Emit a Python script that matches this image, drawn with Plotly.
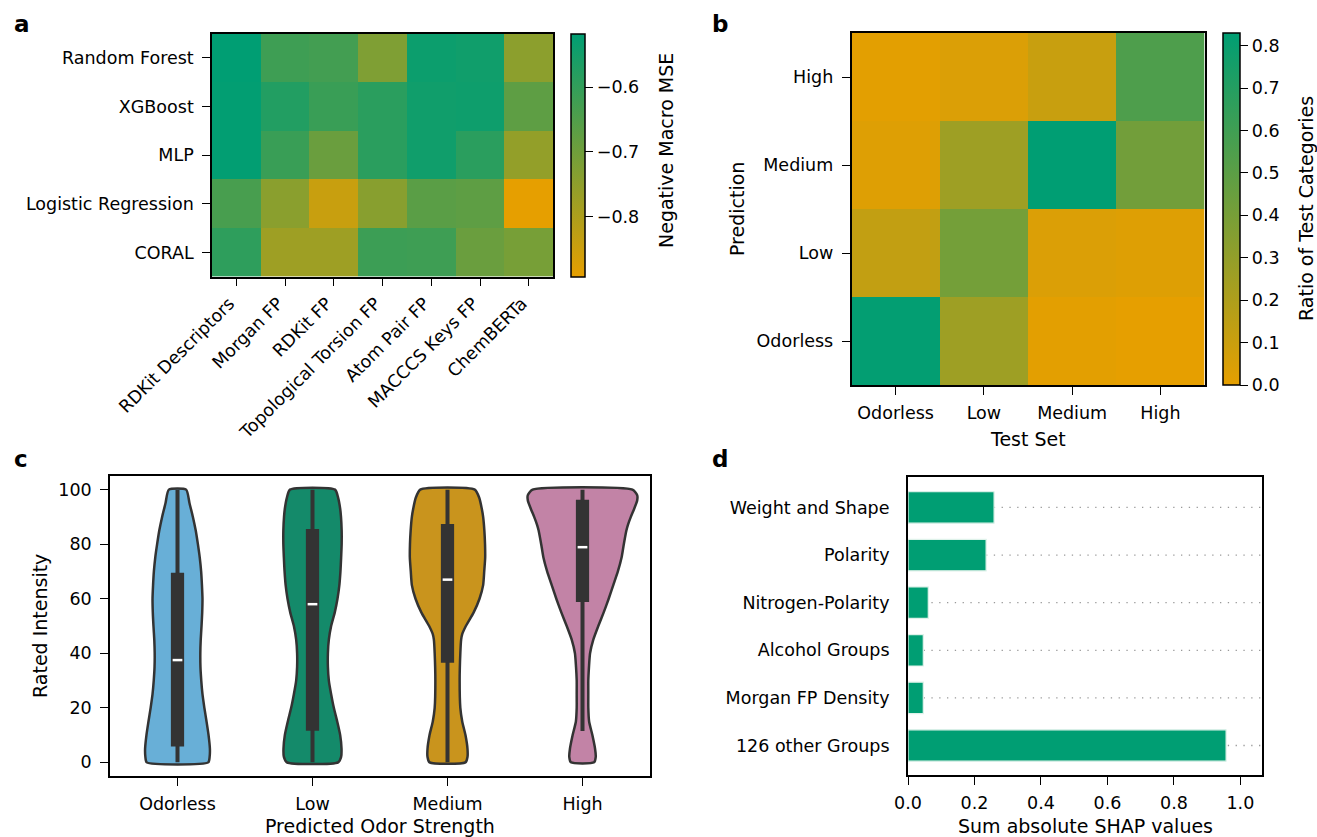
import plotly.graph_objects as go

# ---------------- data ----------------
models = ["Random Forest", "XGBoost", "MLP", "Logistic Regression", "CORAL"]
features = ["RDKit Descriptors", "Morgan FP", "RDKit FP", "Topological Torsion FP",
            "Atom Pair FP", "MACCCS Keys FP", "ChemBERTa"]
neg_macro_mse = [
    [-0.517, -0.619, -0.626, -0.724, -0.536, -0.543, -0.746],
    [-0.521, -0.573, -0.611, -0.585, -0.543, -0.540, -0.671],
    [-0.521, -0.611, -0.690, -0.585, -0.543, -0.585, -0.758],
    [-0.634, -0.743, -0.844, -0.739, -0.664, -0.671, -0.893],
    [-0.592, -0.776, -0.776, -0.615, -0.619, -0.690, -0.712],
]
mse_ticks = [-0.6, -0.7, -0.8]
mse_ticktext = ["\u22120.6", "\u22120.7", "\u22120.8"]

strength = ["Odorless", "Low", "Medium", "High"]
# rows = prediction (Odorless .. High), columns = test set category
conf_ratio = [
    [0.82, 0.26, 0.01, 0.00],
    [0.13, 0.41, 0.04, 0.03],
    [0.03, 0.26, 0.83, 0.42],
    [0.01, 0.04, 0.11, 0.55],
]
ratio_ticks = [0.0, 0.1, 0.2, 0.3, 0.4, 0.5, 0.6, 0.7, 0.8]

# violin outlines: intensity level -> half width (category units)
violin_levels = {
    "Odorless": [0, 2, 5, 10, 15, 20, 25, 30, 35, 40, 45, 50, 55, 60, 65, 70, 75, 80, 85, 90, 95, 100],
    "Low":      [0, 2, 5, 10, 15, 20, 25, 30, 35, 40, 45, 50, 55, 60, 65, 70, 75, 80, 85, 90, 93, 97, 100],
    "Medium":   [0, 2, 5, 10, 15, 20, 30, 40, 45, 47, 50, 55, 60, 65, 70, 75, 80, 85, 90, 93, 97, 100],
    "High":     [0, 2, 5, 10, 15, 20, 25, 30, 35, 40, 45, 50, 55, 60, 65, 70, 75, 80, 85, 87, 90, 93, 96, 98, 100],
}
violin_halfwidth = {
    "Odorless": [0.228, 0.238, 0.240, 0.230, 0.215, 0.199, 0.185, 0.176, 0.170, 0.169, 0.172, 0.178,
                 0.183, 0.185, 0.181, 0.175, 0.165, 0.151, 0.135, 0.114, 0.089, 0.064],
    "Low":      [0.190, 0.212, 0.215, 0.205, 0.183, 0.158, 0.138, 0.121, 0.114, 0.114, 0.121, 0.138,
                 0.165, 0.185, 0.199, 0.207, 0.212, 0.216, 0.216, 0.211, 0.205, 0.190, 0.167],
    "Medium":   [0.133, 0.148, 0.148, 0.133, 0.109, 0.095, 0.090, 0.095, 0.101, 0.109, 0.136, 0.194,
                 0.237, 0.264, 0.272, 0.279, 0.278, 0.273, 0.264, 0.254, 0.235, 0.202],
    "High":     [0.086, 0.098, 0.093, 0.073, 0.049, 0.043, 0.043, 0.043, 0.048, 0.056, 0.080, 0.117,
                 0.157, 0.194, 0.228, 0.262, 0.289, 0.306, 0.325, 0.336, 0.358, 0.383, 0.405, 0.405, 0.370],
}
box_q1 = [5.8, 11.6, 36.5, 58.8]
box_q3 = [69.5, 85.6, 87.4, 96.3]
box_median = [37.5, 58.0, 67.0, 78.9]
whisker_low = [0, 0, 0, 11.5]
whisker_high = [100, 100, 100, 100]
violin_colors = ["#68AFD7", "#148A6A", "#C9941D", "#C283A6"]

shap_groups = ["Weight and Shape", "Polarity", "Nitrogen-Polarity", "Alcohol Groups",
               "Morgan FP Density", "126 other Groups"]
shap_values = [0.259, 0.235, 0.061, 0.046, 0.046, 0.957]

# ---------------- layout helpers ----------------
W, H = 1317, 837
FONT = "DejaVu Sans"
TICK = 17.5
TITLE = 19


def fx(p):
    return p / W


def fy(p):
    return 1 - p / H


scale = [[0, "#E69F00"], [1, "#009E73"]]

fig = go.Figure()

# ---- panel a ----
fig.add_trace(go.Heatmap(
    z=neg_macro_mse, x=features, y=models, colorscale=scale, xaxis="x", yaxis="y",
    xgap=0, ygap=0, hoverongaps=False,
    colorbar=dict(x=fx(570.7), xanchor="left", xpad=0, ypad=0,
                  y=fy((33.5 + 276.7) / 2), yanchor="middle",
                  len=(276.7 - 33.5) / H, lenmode="fraction", thickness=13.5,
                  outlinewidth=1.5, outlinecolor="black",
                  tickvals=mse_ticks, ticktext=mse_ticktext, ticks="outside",
                  ticklen=8, tickwidth=1.3, tickcolor="black",
                  tickfont=dict(family=FONT, size=TICK, color="black")),
))

# ---- panel b ----
fig.add_trace(go.Heatmap(
    z=conf_ratio, x=strength, y=strength, colorscale=scale, xaxis="x2", yaxis="y2",
    zmin=0,
    colorbar=dict(x=fx(1223), xanchor="left", xpad=0, ypad=0,
                  y=fy((33 + 385) / 2), yanchor="middle",
                  len=352 / H, lenmode="fraction", thickness=16.5,
                  outlinewidth=1.5, outlinecolor="black",
                  tickvals=ratio_ticks, tickformat=".1f", ticks="outside",
                  ticklen=8, tickwidth=1.3, tickcolor="black",
                  tickfont=dict(family=FONT, size=TICK, color="black")),
))

# ---- panel c : violins ----
for i, cat in enumerate(strength):
    lv = violin_levels[cat]
    hw = violin_halfwidth[cat]
    xs = [i + w for w in hw] + [i - w for w in reversed(hw)]
    ys = list(lv) + list(reversed(lv))
    xs.append(xs[0])
    ys.append(ys[0])
    fig.add_trace(go.Scatter(
        x=xs, y=ys, xaxis="x3", yaxis="y3", mode="lines", fill="toself",
        fillcolor=violin_colors[i], line=dict(color="#333333", width=2.5, shape="spline", smoothing=0.6),
        hoverinfo="skip", showlegend=False))
    fig.add_trace(go.Scatter(
        x=[i, i], y=[whisker_low[i], whisker_high[i]], xaxis="x3", yaxis="y3", mode="lines",
        line=dict(color="#333333", width=4), hoverinfo="skip", showlegend=False))
    bw = 0.049
    fig.add_trace(go.Scatter(
        x=[i - bw, i + bw, i + bw, i - bw, i - bw],
        y=[box_q1[i], box_q1[i], box_q3[i], box_q3[i], box_q1[i]],
        xaxis="x3", yaxis="y3", mode="lines", fill="toself", fillcolor="#333333",
        line=dict(color="#333333", width=0), hoverinfo="skip", showlegend=False))
    fig.add_trace(go.Scatter(
        x=[i - 0.036, i + 0.036], y=[box_median[i], box_median[i]], xaxis="x3", yaxis="y3",
        mode="lines", line=dict(color="white", width=2.5), hoverinfo="skip", showlegend=False))

# ---- panel d : SHAP bars ----
fig.add_trace(go.Bar(
    x=shap_values, y=shap_groups, orientation="h", xaxis="x4", yaxis="y4", width=0.66,
    marker=dict(color="#009E73", line=dict(color="#dff2ea", width=1.2)), showlegend=False))

shapes = []
for g in shap_groups:
    shapes.append(dict(type="line", xref="x4 domain", x0=0, x1=1, yref="y4", y0=g, y1=g,
                       layer="below", line=dict(color="#999999", width=1.3, dash="1.3px,6.5px")))

axis_common = dict(showline=True, linecolor="black", linewidth=1.5, mirror=True,
                   ticks="outside", ticklen=8, tickwidth=1.3, tickcolor="black",
                   tickfont=dict(family=FONT, size=TICK, color="black"),
                   showgrid=False, zeroline=False, automargin=False)
xax = dict(axis_common, ticklabelstandoff=3)
yax = dict(axis_common, ticklabelstandoff=5)

fig.update_layout(
    width=W, height=H, margin=dict(l=0, r=0, t=0, b=0, pad=0, autoexpand=False),
    paper_bgcolor="white", plot_bgcolor="white",
    font=dict(family=FONT, size=TICK, color="black"),
    showlegend=False,
    xaxis=dict(domain=[fx(212), fx(553.3)], anchor="y", tickangle=-45,
               **{**xax, "ticklabelstandoff": 0, "ticklabelshift": -7}),
    yaxis=dict(domain=[fy(276.7), fy(33.5)], anchor="x", autorange="reversed", **yax),
    xaxis2=dict(domain=[fx(851.5), fx(1204.5)], anchor="y2", **xax),
    yaxis2=dict(domain=[fy(385), fy(33)], anchor="x2", **yax),
    xaxis3=dict(domain=[fx(110), fx(650)], anchor="y3", range=[-0.5, 3.5],
                tickvals=[0, 1, 2, 3], ticktext=strength, **xax),
    yaxis3=dict(domain=[fy(776), fy(476)], anchor="x3", range=[-5, 105],
                tickvals=[0, 20, 40, 60, 80, 100], **yax),
    xaxis4=dict(domain=[fx(908), fx(1262)], anchor="y4", range=[0, 1.065],
                tickvals=[0, 0.2, 0.4, 0.6, 0.8, 1.0], tickformat=".1f", **xax),
    yaxis4=dict(domain=[fy(775), fy(477)], anchor="x4", range=[5.62, -0.64],
                categoryorder="array", categoryarray=shap_groups,
                **{**yax, "ticks": "", "linewidth": 2, "ticklabelstandoff": 13}),
    shapes=shapes,
)


def note(text, x, y, size=TITLE, angle=0, bold=False, xanchor="center"):
    fig.add_annotation(text=f"<b>{text}</b>" if bold else text, x=fx(x), y=fy(y),
                       xref="paper", yref="paper", showarrow=False, textangle=angle,
                       xanchor=xanchor, yanchor="middle",
                       font=dict(family=FONT, size=size, color="black"))


note("a", 12, 24, size=23, bold=True, xanchor="left")
note("b", 710, 24, size=23, bold=True, xanchor="left")
note("c", 12, 459, size=23, bold=True, xanchor="left")
note("d", 710, 459, size=23, bold=True, xanchor="left")
note("Negative Macro MSE", 666, 151, angle=-90)
note("Ratio of Test Categories", 1306, 209, angle=-90)
note("Prediction", 737, 209, angle=-90)
note("Test Set", 1028, 439)
note("Rated Intensity", 40, 626, angle=-90)
note("Predicted Odor Strength", 380, 826)
note("Sum absolute SHAP values", 1085, 826)

fig.write_html("out.html", config={"displayModeBar": False},
               post_script="document.body.style.margin='0px';document.body.style.overflow='hidden';")
